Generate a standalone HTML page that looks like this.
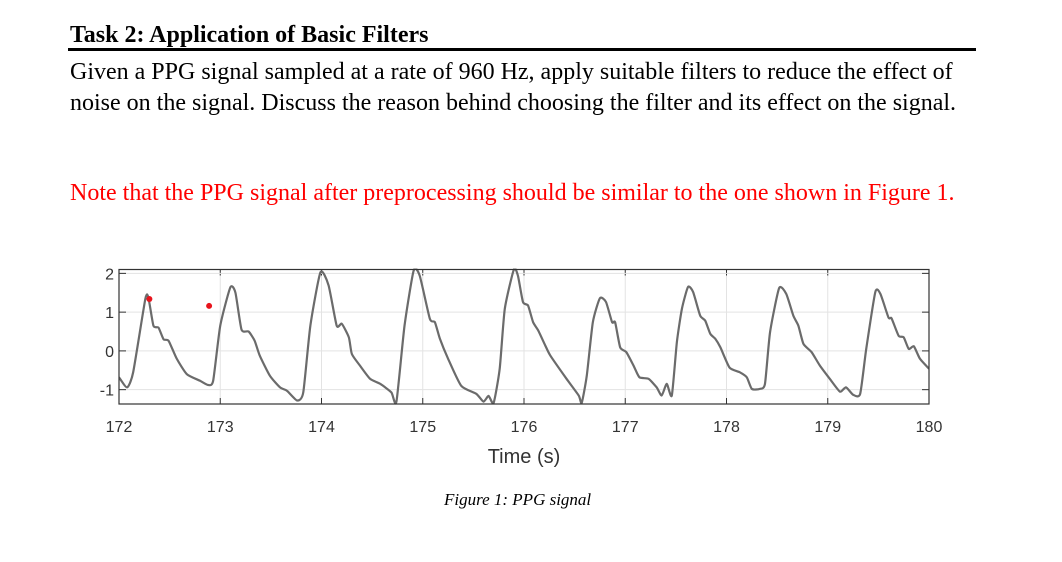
<!DOCTYPE html>
<html><head><meta charset="utf-8">
<style>
body{margin:0;width:1062px;height:562px;background:#fff;position:relative;overflow:hidden;font-family:"Liberation Serif",serif}
.t{position:absolute;white-space:nowrap;color:#000}
</style></head><body>
<div class="t" style="left:70px;top:22px;font-size:24px;font-weight:bold">Task 2: Application of Basic Filters</div>
<div style="position:absolute;left:68px;top:48px;width:908px;height:3px;background:#000"></div>
<div class="t" style="left:70px;top:59px;font-size:24px">Given a PPG signal sampled at a rate of 960 Hz, apply suitable filters to reduce the effect of</div>
<div class="t" style="left:70px;top:90px;font-size:24px">noise on the signal. Discuss the reason behind choosing the filter and its effect on the signal.</div>
<div class="t" style="left:70px;top:180px;font-size:24px;color:#f00">Note that the PPG signal after preprocessing should be similar to the one shown in Figure 1.</div>
<svg id="chart" style="position:absolute;left:0;top:0" width="1062" height="562"></svg>
<div class="t" style="left:444px;top:490px;font-size:17px;font-style:italic">Figure 1: PPG signal</div>
<script>
const xTicks=[172,173,174,175,176,177,178,179,180];
const yTicks=[-1,0,1,2];
const times=[172.00,172.08,172.14,172.26,172.29,172.34,172.39,172.44,172.49,172.57,172.67,172.8,172.88,172.93,173.0,173.1,173.15,173.21,173.28,173.34,173.39,173.49,173.59,173.66,173.76,173.82,173.89,173.99,174.07,174.15,174.2,174.27,174.3,174.38,174.48,174.58,174.69,174.74,174.82,174.91,174.97,175.07,175.12,175.17,175.25,175.38,175.53,175.6,175.65,175.7,175.76,175.81,175.9,175.94,175.99,176.04,176.09,176.14,176.21,176.26,176.42,176.54,176.57,176.62,176.68,176.75,176.81,176.87,176.9,176.95,177.01,177.08,177.14,177.23,177.31,177.36,177.41,177.46,177.51,177.56,177.62,177.67,177.74,177.79,177.84,177.89,177.94,178.03,178.13,178.2,178.25,178.33,178.38,178.43,178.52,178.59,178.66,178.71,178.76,178.84,178.92,179.02,179.12,179.18,179.25,179.32,179.38,179.47,179.52,179.6,179.63,179.7,179.75,179.8,179.85,179.91,180];
const values=[-0.68,-0.94,-0.55,1.34,1.38,0.65,0.6,0.3,0.26,-0.2,-0.6,-0.77,-0.88,-0.77,0.65,1.64,1.5,0.55,0.5,0.26,-0.12,-0.64,-0.94,-1.03,-1.28,-1.07,0.65,2.03,1.69,0.65,0.7,0.35,-0.08,-0.38,-0.72,-0.85,-1.07,-1.31,0.65,2.07,1.94,0.83,0.74,0.31,-0.2,-0.9,-1.11,-1.31,-1.16,-1.34,-0.46,1.08,2.1,1.94,1.26,1.17,0.74,0.53,0.14,-0.12,-0.72,-1.15,-1.34,-0.64,0.74,1.36,1.26,0.74,0.74,0.09,-0.03,-0.37,-0.68,-0.72,-0.94,-1.15,-0.85,-1.15,0.23,1.09,1.65,1.52,0.91,0.78,0.44,0.31,0.09,-0.43,-0.55,-0.68,-0.98,-0.98,-0.85,0.48,1.62,1.47,0.91,0.65,0.18,-0.03,-0.37,-0.72,-1.05,-0.94,-1.13,-1.11,0.05,1.52,1.47,0.86,0.84,0.39,0.35,0.05,0.12,-0.2,-0.46];
const markerTimes=[172.3,172.89];
const markerValues=[1.34,1.16];
const X0=119,X1=929,Y0=269.5,Y1=404,TMIN=172,TMAX=180,VMIN=-1.37,VMAX=2.1;
const sx=t=>X0+(t-TMIN)/(TMAX-TMIN)*(X1-X0);
const sy=v=>Y1-(v-VMIN)/(VMAX-VMIN)*(Y1-Y0);
const svg=document.getElementById('chart');
const NS='http://www.w3.org/2000/svg';
function mk(tag,attrs,parent){const e=document.createElementNS(NS,tag);for(const k in attrs)e.setAttribute(k,attrs[k]);(parent||svg).appendChild(e);return e;}
const defs=mk('defs',{});
const cp=mk('clipPath',{id:'plotclip'},defs);
mk('rect',{x:X0,y:Y0-1,width:X1-X0,height:Y1-Y0+2},cp);
xTicks.forEach(t=>{
  const g=mk('line',{x1:sx(t),x2:sx(t),y1:Y0,y2:Y1,stroke:'#e3e3e3','stroke-width':1});
  
  
  const a=mk('line',{x1:sx(t),x2:sx(t),y1:Y1,y2:Y1-6,stroke:'#333'});
  
  
  const b=mk('line',{x1:sx(t),x2:sx(t),y1:Y0,y2:Y0+6,stroke:'#333'});
  
  
  const l=mk('text',{x:sx(t),y:432,'text-anchor':'middle','font-family':'Liberation Sans, sans-serif','font-size':16,fill:'#333'});
  l.textContent=t;
  
  
});
yTicks.forEach(v=>{
  const g=mk('line',{x1:X0,x2:X1,y1:sy(v),y2:sy(v),stroke:'#e3e3e3'});
  
  
  const a=mk('line',{x1:X0,x2:X0+7,y1:sy(v),y2:sy(v),stroke:'#333'});
  
  
  const b=mk('line',{x1:X1,x2:X1-7,y1:sy(v),y2:sy(v),stroke:'#333'});
  
  
  const l=mk('text',{x:X0-5,y:sy(v)+6,'text-anchor':'end','font-family':'Liberation Sans, sans-serif','font-size':16,fill:'#333'});
  l.textContent=v;
  
  
});
const P=times.map((t,i)=>[sx(t),sy(values[i])]);
let d='M'+P[0][0]+','+P[0][1];
const k=10;
for(let i=0;i<P.length-1;i++){
  const p0=P[Math.max(i-1,0)],p1=P[i],p2=P[i+1],p3=P[Math.min(i+2,P.length-1)];
  const c1=[p1[0]+(p2[0]-p0[0])/k,p1[1]+(p2[1]-p0[1])/k],c2=[p2[0]-(p3[0]-p1[0])/k,p2[1]-(p3[1]-p1[1])/k];
  d+=` C${c1[0]},${c1[1]} ${c2[0]},${c2[1]} ${p2[0]},${p2[1]}`;
}
const line=mk('path',{d:d,fill:'none',stroke:'#6b6b6b','stroke-width':2.2,'stroke-linejoin':'round','clip-path':'url(#plotclip)'});


const box=mk('rect',{x:X0,y:Y0,width:X1-X0,height:Y1-Y0,fill:'none',stroke:'#333','stroke-width':1.2});


markerTimes.forEach((t,i)=>{
  const c=mk('circle',{cx:sx(t),cy:sy(markerValues[i]),r:3,fill:'#e8141c'});
  
  
});
const xt=mk('text',{x:sx(176),y:463,'text-anchor':'middle','font-family':'Liberation Sans, sans-serif','font-size':20,fill:'#333'});
xt.textContent='Time (s)';


</script>
</body></html>
